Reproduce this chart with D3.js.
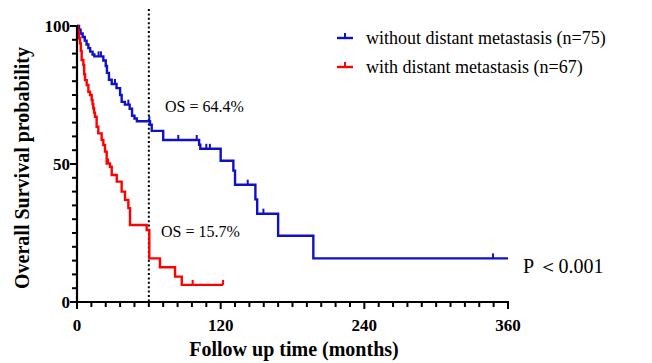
<!DOCTYPE html>
<html>
<head>
<meta charset="utf-8">
<script src="https://cdn.jsdelivr.net/npm/d3@7"></script>
<style>
  html, body { margin: 0; padding: 0; background: #fff; }
  svg { display: block; }
</style>
</head>
<body>
<svg id="chart" width="652" height="363" font-family="'Liberation Serif', 'Times New Roman', serif"></svg>
<script>
// Kaplan-Meier steps: [months, survival %]
const blueTimes = [0, 1.7, 3, 4.7, 6.5, 8, 9.5, 11, 13, 14.5, 22, 24, 25, 26.7, 29, 33, 36, 37.3, 40, 44, 46, 48, 50, 61, 62.4, 72, 102, 103, 120, 130.6, 132, 149, 150.5, 168, 197.4, 360];
const blueSurv  = [100, 98.7, 97.3, 96, 94.7, 93.3, 92, 90.7, 89.7, 89, 87.5, 85.5, 83, 80.5, 79, 77.5, 75, 72.5, 71.5, 70, 67.5, 66.5, 65.5, 64.2, 62, 58.7, 57, 55.5, 51.2, 47.6, 42.5, 37.2, 32, 24, 15.8, 15.8];
const blueCensor = [18, 20, 31.7, 42.9, 60.4, 84.6, 100, 108, 111, 142.6, 155.7, 347.5];

const redTimes = [0, 0.7, 1.2, 1.8, 2.5, 3.2, 3.9, 5.3, 6, 6.7, 8.1, 9.5, 10.9, 12.3, 13, 13.6, 14.3, 15, 16.4, 17.8, 20.6, 22, 23.4, 24.8, 27.6, 29, 33.2, 37.3, 40.1, 42.9, 44.3, 58.2, 60.4, 69.3, 81.9, 87.5, 122];
const redSurv  = [100, 98.5, 97, 95.5, 93.7, 91, 87.7, 85.9, 82.5, 80.4, 78.6, 76.2, 75, 73.2, 71.7, 70.2, 68.6, 67.1, 63.5, 61.1, 58.7, 56.9, 54.5, 50.2, 49, 46, 43.6, 40, 37, 34, 27.9, 26.1, 15.8, 12.6, 9.2, 6.2, 6.2];
const redCensor = [26, 96.6, 122];

const xTicks = [0, 120, 240, 360];
const yTicks = [0, 50, 100];
const seriesNames = ["without distant metastasis (n=75)", "with distant metastasis (n=67)"];
const seriesColors = ["#1010c8", "#ff0000"];
const osLabels = ["OS = 64.4%", "OS = 15.7%"];
const landmark = 60;

const svg = d3.select("#chart");
const x = d3.scaleLinear().domain([0, 360]).range([77, 508]);
const y = d3.scaleLinear().domain([0, 100]).range([302, 26]);

// dotted landmark line
svg.append("line")
  .attr("x1", x(landmark)).attr("x2", x(landmark))
  .attr("y1", 9).attr("y2", y(0))
  .attr("stroke", "#000").attr("stroke-width", 2)
  .attr("stroke-dasharray", "2,2.4");

// curves
const line = d3.line()
  .x(d => x(d[0]))
  .y(d => y(d[1]))
  .curve(d3.curveStepAfter);

function drawSeries(times, surv, censor, color) {
  const pts = times.map((t, i) => [t, surv[i]]);
  svg.append("path")
    .datum(pts)
    .attr("d", line)
    .attr("fill", "none")
    .attr("stroke", color)
    .attr("stroke-width", 2.4);

  // censor ticks sit on the level in force at that time
  const level = t => {
    let s = surv[0];
    for (let i = 0; i < times.length; i++) if (times[i] <= t) s = surv[i];
    return s;
  };
  svg.append("g").selectAll("line")
    .data(censor)
    .join("line")
    .attr("x1", d => x(d)).attr("x2", d => x(d))
    .attr("y1", d => y(level(d))).attr("y2", d => y(level(d)) - 5)
    .attr("stroke", color).attr("stroke-width", 2);
}

drawSeries(blueTimes, blueSurv, blueCensor, seriesColors[0]);
drawSeries(redTimes, redSurv, redCensor, seriesColors[1]);

// axes
const xAxis = svg.append("g").attr("transform", `translate(0,${y(0)})`);
xAxis.append("line").attr("x1", x(0) - 6).attr("x2", x(360) + 1)
  .attr("stroke", "#000").attr("stroke-width", 2.2);
xAxis.selectAll("line.tick")
  .data(d3.range(0, 361, 12))
  .join("line").attr("class", "tick")
  .attr("x1", d => x(d)).attr("x2", d => x(d))
  .attr("y1", 0).attr("y2", d => xTicks.includes(d) ? 7 : 5)
  .attr("stroke", "#000").attr("stroke-width", 2);
xAxis.selectAll("text")
  .data(xTicks)
  .join("text")
  .attr("x", d => x(d)).attr("y", 29)
  .attr("text-anchor", "middle")
  .attr("font-size", 17).attr("font-weight", "bold")
  .text(d => d);

const yAxis = svg.append("g").attr("transform", `translate(${x(0)},0)`);
yAxis.append("line").attr("y1", y(100) - 1).attr("y2", y(0) + 1)
  .attr("stroke", "#000").attr("stroke-width", 2.2);
yAxis.selectAll("line.tick")
  .data(d3.range(0, 101, 5))
  .join("line").attr("class", "tick")
  .attr("y1", d => y(d)).attr("y2", d => y(d))
  .attr("x1", 0).attr("x2", d => yTicks.includes(d) ? -7 : -5)
  .attr("stroke", "#000").attr("stroke-width", 2);
yAxis.selectAll("text")
  .data(yTicks)
  .join("text")
  .attr("x", -7).attr("y", d => y(d) + 6)
  .attr("text-anchor", "end")
  .attr("font-size", 17).attr("font-weight", "bold")
  .text(d => d);

// axis titles
svg.append("text")
  .attr("x", 294).attr("y", 356)
  .attr("text-anchor", "middle")
  .attr("font-size", 20).attr("font-weight", "bold")
  .text("Follow up time (months)");
svg.append("text")
  .attr("transform", `translate(29,168) rotate(-90)`)
  .attr("text-anchor", "middle")
  .attr("font-size", 20).attr("font-weight", "bold")
  .text("Overall Survival probability");

// legend
const legend = svg.append("g").attr("transform", "translate(337,38)");
seriesNames.forEach((name, i) => {
  const g = legend.append("g").attr("transform", `translate(0,${i * 29})`);
  g.append("line").attr("x1", 0).attr("x2", 16).attr("y1", 0).attr("y2", 0)
    .attr("stroke", seriesColors[i]).attr("stroke-width", 2.4);
  g.append("line").attr("x1", 8).attr("x2", 8).attr("y1", 0).attr("y2", -5)
    .attr("stroke", seriesColors[i]).attr("stroke-width", 2);
  g.append("text").attr("x", 29).attr("y", 6)
    .attr("font-size", 18)
    .text(name);
});

// annotations
svg.append("text").attr("x", 165).attr("y", 112)
  .attr("font-size", 16).text(osLabels[0]);
svg.append("text").attr("x", 161).attr("y", 237)
  .attr("font-size", 16).text(osLabels[1]);
svg.append("text").attr("x", 523).attr("y", 273)
  .attr("font-size", 20).text("P \uFF1C0.001");
</script>
</body>
</html>
